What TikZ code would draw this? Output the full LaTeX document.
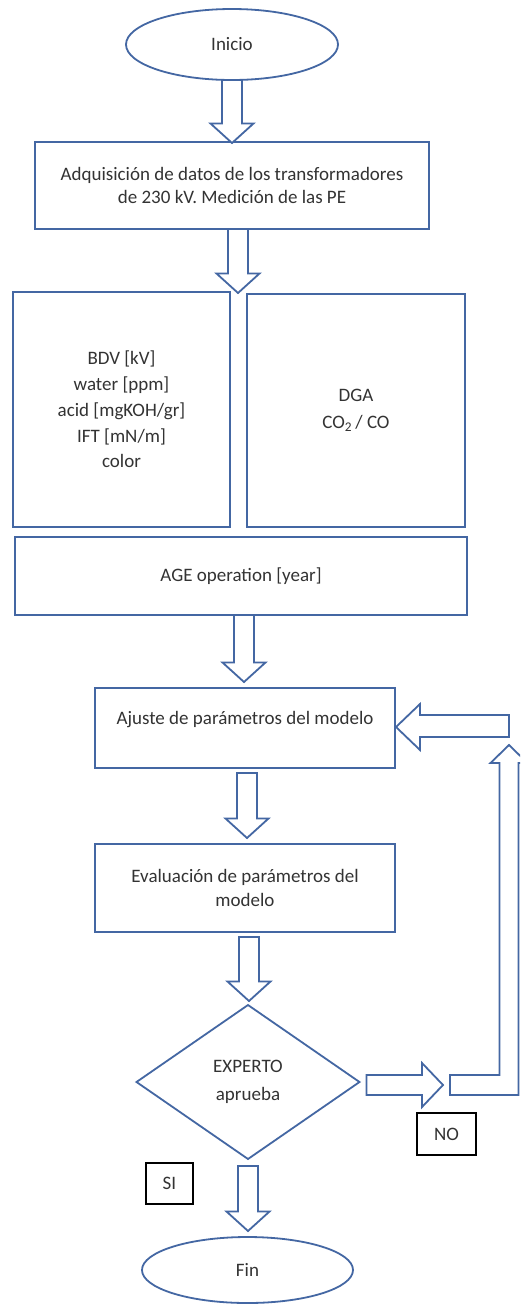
\documentclass[tikz,border=0pt]{standalone}
\usepackage{fontspec}
\setmainfont{Carlito}
\usetikzlibrary{shapes.geometric,calc}
\definecolor{outl}{HTML}{4467A3}
\definecolor{txt}{HTML}{333333}

% block arrow pointing down: x-centre, source anchor, target anchor, gap at start, gap at tip
\newcommand\dnblk[5]{%
  \draw[blk] let \p1=(#2), \p2=(#3) in
    ({#1pt-10pt},{\y1-#4pt}) -- ({#1pt-10pt},{\y2+#5pt+19.5pt})
    -- ({#1pt-21.5pt},{\y2+#5pt+19.5pt}) -- ({#1pt},{\y2+#5pt})
    -- ({#1pt+21.5pt},{\y2+#5pt+19.5pt}) -- ({#1pt+10pt},{\y2+#5pt+19.5pt})
    -- ({#1pt+10pt},{\y1-#4pt}) -- cycle;}

\begin{document}
\begin{tikzpicture}[x=1pt,y=-1pt,
  every node/.style={font=\fontsize{19}{23}\selectfont, text=txt},
  box/.style={rectangle, draw=outl, line width=1.8pt, fill=white,
    inner sep=0pt, outer sep=0pt, align=center},
  term/.style={ellipse, draw=outl, line width=1.8pt, fill=white,
    inner sep=0pt, outer sep=0pt},
  decision/.style={diamond, draw=outl, line width=1.8pt, fill=white,
    inner sep=0pt, outer sep=0pt, align=center},
  tag/.style={rectangle, draw=black, line width=1.5pt, fill=white,
    inner sep=0pt, outer sep=0pt},
  blk/.style={draw=outl, line width=1.8pt, fill=white, line join=miter},
]
\clip (0,0) rectangle (520,1304);
\fill[white] (0,0) rectangle (520,1304);

% process chain
\node[term, minimum width=212pt, minimum height=71pt] (ini) at (232,44.5) {Inicio};

\node[box, minimum width=394pt, minimum height=87pt] (adq) at (232,185.5)
  {Adquisición de datos de los transformadores\\de 230 kV. Medición de las PE};

\node[box, minimum width=217pt, minimum height=235pt,
  font=\fontsize{19}{25.7}\selectfont] (props) at (121.5,409.5)
  {BDV [kV]\\water [ppm]\\acid [mgKOH/gr]\\IFT [mN/m]\\color};

\node[box, minimum width=218pt, minimum height=233pt,
  font=\fontsize{19}{27}\selectfont] (dga) at (356,410.5)
  {DGA\\CO\textsubscript{2}\,/ CO};

\node[box, minimum width=452pt, minimum height=78pt] (age) at (241,576)
  {AGE operation [year]};

\node[box, minimum width=300pt, minimum height=80pt, text depth=20pt] (ajuste) at (245,728)
  {Ajuste de parámetros del modelo};

\node[box, minimum width=300pt, minimum height=88pt, font=\fontsize{19}{24}\selectfont]
  (eval) at (245,888) {Evaluación de parámetros del\\modelo};

\node[decision, minimum width=223pt, minimum height=154pt,
  font=\fontsize{19}{28}\selectfont] (exp) at (248,1082) {EXPERTO\\aprueba};

\node[tag, minimum width=59pt, minimum height=42pt] (no) at (446.5,1134) {NO};
\node[tag, minimum width=47pt, minimum height=41pt] (si) at (169.5,1183.5) {SI};

\node[term, minimum width=211pt, minimum height=66pt] (fin) at (247.5,1270) {Fin};

% downward block arrows
\dnblk{232}{ini.south}{adq.north}{0}{-1}
\dnblk{238}{adq.south}{props.north}{0}{-1}
\dnblk{244}{age.south}{ajuste.north}{0}{6}
\dnblk{247}{ajuste.south}{eval.north}{5}{6}
\dnblk{249}{eval.south}{exp.north}{5}{4}
\dnblk{248}{exp.south}{fin.north}{7}{6}

% NO branch: right arrow, bent return arrow, arrow back into the adjustment box
\coordinate (noend) at (443,1085);
\coordinate (loopend) at (509,745);
\coordinate (retstart) at (509,726);
\draw[blk] ($(exp.east)+(7,-7)$) -- (422,1075) -- (422,1063) -- (noend)
  -- (422,1107) -- (422,1095) -- ($(exp.east)+(7,13)$) -- cycle;
\draw[blk] (450,1075) -- (499.5,1075) -- (499.5,763) -- (490.5,763) -- (loopend)
  -- (527.5,763) -- (518.5,763) -- (518.5,1095) -- (450,1095) -- cycle;
\draw[blk] ($(ajuste.east)+(1,-1)$) -- (420,704) -- (420,715) -- (509,715)
  -- (509,737) -- (420,737) -- (420,750) -- cycle;
\end{tikzpicture}
\end{document}
